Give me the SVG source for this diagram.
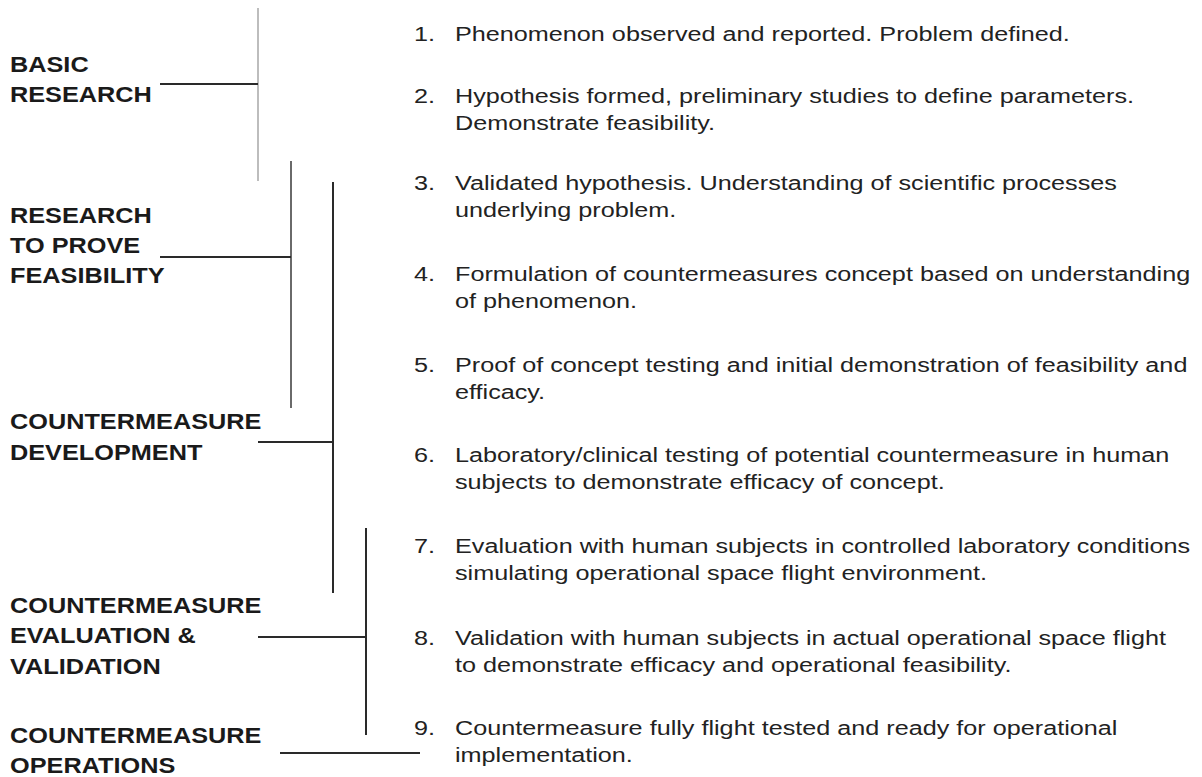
<svg xmlns="http://www.w3.org/2000/svg" width="1202" height="777" viewBox="0 0 1202 777">
<style>
.lbl{font-family:"Liberation Sans",Arial,sans-serif;font-weight:bold;font-size:22px;fill:#1a1a1a}
.itm{font-family:"Liberation Sans",Arial,sans-serif;font-size:21px;fill:#222}
.ln{stroke:#2a2a2a;stroke-width:2;fill:none}
.lg{stroke:#bdbdbd;stroke-width:2;fill:none}
.lm{stroke:#6a6a6a;stroke-width:2;fill:none}
</style>
<rect width="1202" height="777" fill="#fff"/>
<g id="connectors">
<line class="lg" x1="258" y1="8" x2="258" y2="181"/>
<line class="ln" x1="160" y1="84" x2="258" y2="84"/>
<line class="lm" x1="291" y1="161" x2="291" y2="408"/>
<line class="ln" x1="160" y1="257" x2="291" y2="257"/>
<line class="ln" x1="333" y1="182" x2="333" y2="593"/>
<line class="ln" x1="258" y1="442" x2="333" y2="442"/>
<line class="ln" x1="366" y1="528" x2="366" y2="735"/>
<line class="ln" x1="258" y1="637" x2="366" y2="637"/>
<line class="ln" x1="280" y1="753" x2="420" y2="753"/>
</g>
<g id="phase-basic"><text class="lbl" transform="translate(10,72) scale(1.15,1)"><tspan x="0" y="0">BASIC</tspan><tspan x="0" y="30">RESEARCH</tspan></text></g>
<g id="phase-feasibility"><text class="lbl" transform="translate(10,223) scale(1.15,1)"><tspan x="0" y="0">RESEARCH</tspan><tspan x="0" y="30">TO PROVE</tspan><tspan x="0" y="60">FEASIBILITY</tspan></text></g>
<g id="phase-development"><text class="lbl" transform="translate(10,429) scale(1.15,1)"><tspan x="0" y="0">COUNTERMEASURE</tspan><tspan x="0" y="31">DEVELOPMENT</tspan></text></g>
<g id="phase-evaluation"><text class="lbl" transform="translate(10,613) scale(1.15,1)"><tspan x="0" y="0">COUNTERMEASURE</tspan><tspan x="0" y="30.5">EVALUATION &amp;</tspan><tspan x="0" y="61">VALIDATION</tspan></text></g>
<g id="phase-operations"><text class="lbl" transform="translate(10,743) scale(1.15,1)"><tspan x="0" y="0">COUNTERMEASURE</tspan><tspan x="0" y="30">OPERATIONS</tspan></text></g>
<g id="item-1"><text class="itm" transform="translate(414,41) scale(1.2,1)">1.</text><text class="itm" transform="translate(455,41) scale(1.2,1)">Phenomenon observed and reported. Problem defined.</text></g>
<g id="item-2"><text class="itm" transform="translate(414,103) scale(1.2,1)">2.</text><text class="itm" transform="translate(455,103) scale(1.2,1)"><tspan x="0" y="0">Hypothesis formed, preliminary studies to define parameters.</tspan><tspan x="0" y="27">Demonstrate feasibility.</tspan></text></g>
<g id="item-3"><text class="itm" transform="translate(414,190) scale(1.2,1)">3.</text><text class="itm" transform="translate(455,190) scale(1.2,1)"><tspan x="0" y="0">Validated hypothesis. Understanding of scientific processes</tspan><tspan x="0" y="27">underlying problem.</tspan></text></g>
<g id="item-4"><text class="itm" transform="translate(414,281) scale(1.2,1)">4.</text><text class="itm" transform="translate(455,281) scale(1.2,1)"><tspan x="0" y="0">Formulation of countermeasures concept based on understanding</tspan><tspan x="0" y="27">of phenomenon.</tspan></text></g>
<g id="item-5"><text class="itm" transform="translate(414,372) scale(1.2,1)">5.</text><text class="itm" transform="translate(455,372) scale(1.2,1)"><tspan x="0" y="0">Proof of concept testing and initial demonstration of feasibility and</tspan><tspan x="0" y="27">efficacy.</tspan></text></g>
<g id="item-6"><text class="itm" transform="translate(414,462) scale(1.2,1)">6.</text><text class="itm" transform="translate(455,462) scale(1.2,1)"><tspan x="0" y="0">Laboratory/clinical testing of potential countermeasure in human</tspan><tspan x="0" y="27">subjects to demonstrate efficacy of concept.</tspan></text></g>
<g id="item-7"><text class="itm" transform="translate(414,553) scale(1.2,1)">7.</text><text class="itm" transform="translate(455,553) scale(1.2,1)"><tspan x="0" y="0">Evaluation with human subjects in controlled laboratory conditions</tspan><tspan x="0" y="27">simulating operational space flight environment.</tspan></text></g>
<g id="item-8"><text class="itm" transform="translate(414,645) scale(1.2,1)">8.</text><text class="itm" transform="translate(455,645) scale(1.2,1)"><tspan x="0" y="0">Validation with human subjects in actual operational space flight</tspan><tspan x="0" y="27">to demonstrate efficacy and operational feasibility.</tspan></text></g>
<g id="item-9"><text class="itm" transform="translate(414,735) scale(1.2,1)">9.</text><text class="itm" transform="translate(455,735) scale(1.2,1)"><tspan x="0" y="0">Countermeasure fully flight tested and ready for operational</tspan><tspan x="0" y="27">implementation.</tspan></text></g>
</svg>
